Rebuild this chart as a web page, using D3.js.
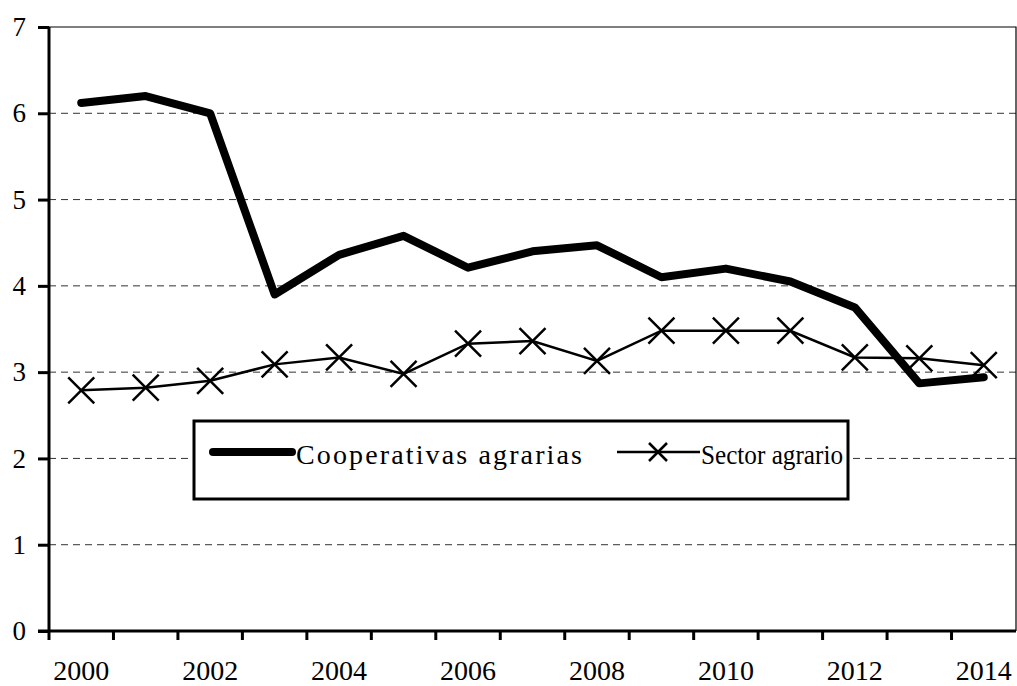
<!DOCTYPE html>
<html>
<head>
<meta charset="utf-8">
<script src="https://cdn.jsdelivr.net/npm/d3@7"></script>
<style>
  html, body { margin: 0; padding: 0; background: #fff; }
  svg { display: block; }
  text { font-family: "Liberation Serif", "Times New Roman", serif; fill: #000; }
</style>
</head>
<body>
<svg id="chart" width="1017" height="686"></svg>
<script>
// Years on the horizontal axis
const years = [2000, 2001, 2002, 2003, 2004, 2005, 2006, 2007, 2008, 2009, 2010, 2011, 2012, 2013, 2014];
// Cooperativas agrarias
const cooperativas = [6.12, 6.2, 6.0, 3.9, 4.36, 4.58, 4.21, 4.4, 4.47, 4.1, 4.2, 4.05, 3.75, 2.87, 2.94];
// Sector agrario
const sector = [2.79, 2.82, 2.9, 3.09, 3.17, 2.98, 3.33, 3.36, 3.13, 3.48, 3.48, 3.48, 3.17, 3.16, 3.08];
// Axis tick labels
const yTicks = [0, 1, 2, 3, 4, 5, 6, 7];
const xLabels = [2000, 2002, 2004, 2006, 2008, 2010, 2012, 2014];
const legendLabels = ["Cooperativas agrarias", "Sector agrario"];

const svg = d3.select("#chart");
const plotLeft = 49, plotRight = 1016, plotTop = 27, plotBottom = 631;

const x = d3.scaleBand().domain(years).range([plotLeft, plotRight]).padding(0);
const y = d3.scaleLinear().domain([0, 7]).range([plotBottom, plotTop]);
const cx = d => x(d) + x.bandwidth() / 2;

// Horizontal dashed gridlines
svg.append("g").selectAll("line")
  .data(yTicks.filter(v => v > 0 && v < 7))
  .join("line")
  .attr("x1", plotLeft).attr("x2", plotRight)
  .attr("y1", d => y(d)).attr("y2", d => y(d))
  .attr("stroke", "#333").attr("stroke-width", 1)
  .attr("stroke-dasharray", "7,5");

// Plot frame (top and right)
svg.append("path")
  .attr("d", `M${plotLeft},${y(7)}H${plotRight}V${plotBottom}`)
  .attr("fill", "none").attr("stroke", "#000").attr("stroke-width", 1.2);

// Y axis
const yAxis = svg.append("g").attr("transform", `translate(${plotLeft},0)`)
  .call(d3.axisLeft(y).tickValues(yTicks).tickSize(11).tickPadding(12).tickFormat(d3.format("d")));
yAxis.select(".domain").attr("stroke", "#000").attr("stroke-width", 3).attr("d", `M0,${plotTop}V${plotBottom}`);
yAxis.selectAll(".tick line").attr("stroke", "#000").attr("stroke-width", 3);
yAxis.selectAll(".tick text").attr("font-size", 27).attr("font-family", "Liberation Serif");

// X axis: ticks on category boundaries, labels on every other year
const xAxis = svg.append("g");
xAxis.append("line")
  .attr("x1", plotLeft - 11).attr("x2", plotRight)
  .attr("y1", plotBottom).attr("y2", plotBottom)
  .attr("stroke", "#000").attr("stroke-width", 3);
const boundaries = years.map(d => x(d));
xAxis.selectAll("line.tk")
  .data(boundaries)
  .join("line").attr("class", "tk")
  .attr("x1", d => d).attr("x2", d => d)
  .attr("y1", plotBottom).attr("y2", plotBottom + 9)
  .attr("stroke", "#000").attr("stroke-width", 3);
xAxis.selectAll("text")
  .data(xLabels)
  .join("text")
  .attr("x", d => cx(d)).attr("y", 680)
  .attr("text-anchor", "middle")
  .attr("font-size", 28)
  .text(d => d);

// Series lines
const seriesLine = d3.line().x((d, i) => cx(years[i])).y(d => y(d));
svg.append("path")
  .datum(cooperativas)
  .attr("d", seriesLine)
  .attr("fill", "none").attr("stroke", "#000")
  .attr("stroke-width", 8).attr("stroke-linejoin", "round").attr("stroke-linecap", "round");

svg.append("path")
  .datum(sector)
  .attr("d", seriesLine)
  .attr("fill", "none").attr("stroke", "#000").attr("stroke-width", 2.5);

// X markers on the sector series
const m = 13;
svg.append("g").selectAll("path")
  .data(sector)
  .join("path")
  .attr("d", (d, i) => {
    const px = cx(years[i]), py = y(d);
    return `M${px - m},${py - m}L${px + m},${py + m}M${px - m},${py + m}L${px + m},${py - m}`;
  })
  .attr("stroke", "#000").attr("stroke-width", 2.5).attr("fill", "none");

// Legend
const lg = svg.append("g");
lg.append("rect")
  .attr("x", 194).attr("y", 421).attr("width", 654).attr("height", 78)
  .attr("fill", "#fff").attr("stroke", "#000").attr("stroke-width", 3);
lg.append("line")
  .attr("x1", 213).attr("x2", 292).attr("y1", 452).attr("y2", 452)
  .attr("stroke", "#000").attr("stroke-width", 8).attr("stroke-linecap", "round");
lg.append("text")
  .attr("x", 296).attr("y", 464)
  .attr("font-size", 28)
  .attr("textLength", 286).attr("lengthAdjust", "spacing")
  .text(legendLabels[0]);
lg.append("line")
  .attr("x1", 617).attr("x2", 700).attr("y1", 452).attr("y2", 452)
  .attr("stroke", "#000").attr("stroke-width", 2.5);
const lm = 9, lx = 658, ly = 452;
lg.append("path")
  .attr("d", `M${lx - lm},${ly - lm}L${lx + lm},${ly + lm}M${lx - lm},${ly + lm}L${lx + lm},${ly - lm}`)
  .attr("stroke", "#000").attr("stroke-width", 2.5);
lg.append("text")
  .attr("x", 701).attr("y", 464)
  .attr("font-size", 27)
  .attr("textLength", 142).attr("lengthAdjust", "spacingAndGlyphs")
  .text(legendLabels[1]);
</script>
</body>
</html>
